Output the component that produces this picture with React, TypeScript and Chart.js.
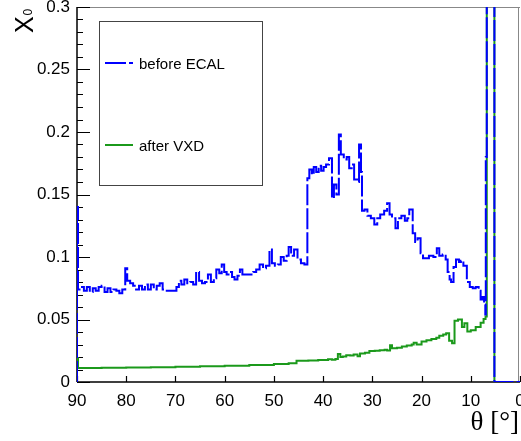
import React, { useEffect, useRef } from 'react';
import { Chart, registerables } from 'chart.js';

Chart.register(...registerables);

// ---- data (theta in degrees, value in X0) ----
const thetaBefore = [
  90, 90, 89.8, 89.2, 88.6, 88.0, 87.4, 86.8, 86.2, 85.6,
  85.0, 84.4, 83.8, 83.2, 82.6, 82.0, 81.4, 80.8, 80.2, 79.8,
  79.2, 78.6, 78.0, 77.4, 76.8, 76.2, 75.6, 75.0, 74.4, 73.8,
  73.2, 72.6, 72.0, 69.8, 69.3, 68.8, 68.2, 67.6, 67.0, 66.4,
  65.8, 65.2, 64.6, 64.0, 63.4, 62.8, 62.2, 61.7, 61.1, 60.6,
  60.1, 59.6, 59.0, 58.5, 58.0, 57.4, 56.9, 56.4, 54.2, 53.6,
  52.9, 52.2, 51.6, 50.9, 50.4, 49.8, 49.2, 48.6, 48.0, 47.4,
  47.0, 46.5, 45.9, 45.2, 44.5, 43.8, 43.2, 42.8, 42.3, 41.9,
  41.4, 40.9, 40.4, 39.9, 39.4, 38.8, 38.2, 37.8, 37.3, 36.8,
  36.4, 35.8, 35.2, 34.7, 34.2, 33.7, 33.1, 32.7, 32.3, 32.1,
  31.6, 31.0, 30.3, 29.6, 29.0, 28.4, 27.6, 27.0, 26.5, 26.0,
  25.3, 24.8, 24.1, 23.4, 22.9, 22.5, 21.8, 21.3, 20.8, 20.2,
  19.7, 19.1, 18.5, 17.6, 16.9, 16.4, 15.7, 15.1, 14.7, 14.3,
  14.0, 13.5, 13.0, 12.4, 12.0, 11.5, 10.8, 10.2, 9.6, 9.0,
  8.4, 8.0, 7.6, 7.3, 7.05, 6.95, 6.75, 5.2, 0,
];
const x0Before = [
  0, 0.14, 0.074, 0.076, 0.073, 0.076, 0.072, 0.075, 0.073, 0.076,
  0.077, 0.072, 0.075, 0.072, 0.074, 0.073, 0.071, 0.074, 0.091, 0.081,
  0.079, 0.077, 0.074, 0.077, 0.074, 0.078, 0.074, 0.078, 0.074, 0.077,
  0.079, 0.074, 0.073, 0.076, 0.081, 0.078, 0.082, 0.079, 0.080, 0.078,
  0.088, 0.081, 0.079, 0.080, 0.086, 0.080, 0.083, 0.090, 0.087, 0.094,
  0.088, 0.086, 0.088, 0.084, 0.082, 0.085, 0.090, 0.086, 0.088, 0.090,
  0.094, 0.091, 0.093, 0.106, 0.095, 0.093, 0.094, 0.100, 0.097, 0.101,
  0.108, 0.101, 0.106, 0.098, 0.095, 0.094, 0.163, 0.170, 0.166, 0.172,
  0.168, 0.173, 0.169, 0.172, 0.174, 0.179, 0.147, 0.158, 0.150, 0.198,
  0.182, 0.178, 0.180, 0.171, 0.174, 0.162, 0.160, 0.190, 0.168, 0.137,
  0.138, 0.133, 0.131, 0.126, 0.131, 0.134, 0.137, 0.143, 0.134, 0.131,
  0.123, 0.131, 0.133, 0.129, 0.131, 0.138, 0.119, 0.112, 0.115, 0.103,
  0.099, 0.099, 0.101, 0.100, 0.107, 0.101, 0.102, 0.098, 0.088, 0.082,
  0.080, 0.092, 0.098, 0.096, 0.097, 0.093, 0.080, 0.076, 0.075, 0.076,
  0.073, 0.066, 0.068, 0.062, 0.054, 0.18, 0.5, 0, 0,
];

const thetaAfter = [
  90, 89.8, 85, 80, 75, 70, 65, 60, 55, 50,
  47, 45.4, 43, 41, 39, 38.2, 37.5, 37.0, 36.5, 36.0,
  35.3, 34.5, 33.8, 33.0, 32.5, 31.5, 30.6, 29.5, 28.5, 27.5,
  27.0, 26.4, 26.0, 25.0, 24.0, 23.0, 22.0, 21.6, 21.0, 20.0,
  19.0, 18.0, 17.0, 16.4, 15.6, 15.0, 14.4, 13.8, 13.3, 12.6,
  11.8, 11.3, 10.7, 10.0, 9.0, 8.0, 7.4, 7.0, 6.75, 5.2,
];
const x0After = [
  0.019, 0.0112, 0.0114, 0.0116, 0.0119, 0.0122, 0.0126, 0.0131, 0.0137, 0.0145,
  0.0150, 0.0170, 0.0173, 0.0177, 0.0182, 0.0178, 0.0185, 0.0225, 0.0200, 0.0205,
  0.0215, 0.0212, 0.0220, 0.0206, 0.0228, 0.0235, 0.0248, 0.0250, 0.0255, 0.0258,
  0.0252, 0.0295, 0.0270, 0.0275, 0.0285, 0.0292, 0.0300, 0.0315, 0.0300, 0.0325,
  0.0335, 0.0345, 0.0355, 0.0370, 0.0380, 0.0390, 0.0330, 0.0310, 0.0490, 0.0500,
  0.0440, 0.0470, 0.0405, 0.0415, 0.0440, 0.0475, 0.0505, 0.0525, 0.5, 0,
];

const seriesLabels = ['before ECAL', 'after VXD'];
const seriesColors = ['#0000ff', '#1b991b'];
const yMajorStep = 0.05;
const yMinorStep = 0.01;
const xMajorStep = 10;
const yAxisTitle = 'X';
const yAxisSub = '0';
const xAxisTitle = 'θ [°]';

const SANS = '"Liberation Sans", Arial, Helvetica, sans-serif';
const SERIF = '"Liberation Serif", "Times New Roman", serif';

const rootPlugin = {
  id: 'rootStyle',
  beforeDatasetsDraw(chart: any) {
    const { ctx, chartArea: a, scales } = chart;
    const xs = scales.x;
    const ys = scales.y;
    ctx.save();
    // frame top & right
    ctx.strokeStyle = '#888';
    ctx.lineWidth = 1;
    ctx.beginPath();
    ctx.moveTo(a.left, a.top + 0.5);
    ctx.lineTo(a.right, a.top + 0.5);
    ctx.moveTo(a.right - 1.5, a.top);
    ctx.lineTo(a.right - 1.5, a.bottom);
    ctx.stroke();
    // axes
    ctx.strokeStyle = '#000';
    ctx.lineWidth = 1.5;
    ctx.beginPath();
    ctx.moveTo(a.left, a.top);
    ctx.lineTo(a.left, a.bottom);
    ctx.moveTo(a.left, a.bottom);
    ctx.lineTo(a.right, a.bottom);
    ctx.stroke();
    // y ticks (inward)
    ctx.lineWidth = 1.2;
    ctx.beginPath();
    const nMinor = Math.round((ys.max - ys.min) / yMinorStep);
    for (let i = 0; i <= nMinor; i++) {
      const v = ys.min + i * yMinorStep;
      const py = Math.round(ys.getPixelForValue(v)) + 0.5;
      const isMajor = Math.abs(v / yMajorStep - Math.round(v / yMajorStep)) < 1e-6;
      ctx.moveTo(a.left, py);
      ctx.lineTo(a.left + (isMajor ? 13 : 6), py);
    }
    // x ticks (inward)
    const nX = Math.round((xs.max - xs.min) / xMajorStep);
    for (let i = 0; i <= nX; i++) {
      const v = xs.min + i * xMajorStep;
      const px = Math.round(xs.getPixelForValue(v)) + 0.5;
      ctx.moveTo(px, a.bottom);
      ctx.lineTo(px, a.bottom - 6);
    }
    ctx.stroke();
    ctx.restore();
  },
  afterDraw(chart: any) {
    const { ctx } = chart;
    ctx.save();
    // legend box
    ctx.fillStyle = '#fff';
    ctx.fillRect(99.5, 21.5, 163, 164);
    ctx.strokeStyle = '#444';
    ctx.lineWidth = 1;
    ctx.strokeRect(99.5, 21.5, 163, 164);
    const rows = [63, 145];
    chart.data.datasets.forEach((ds: any, i: number) => {
      ctx.strokeStyle = ds.borderColor;
      ctx.lineWidth = 2;
      ctx.setLineDash(ds.borderDash || []);
      ctx.beginPath();
      ctx.moveTo(105, rows[i]);
      ctx.lineTo(133, rows[i]);
      ctx.stroke();
      ctx.setLineDash([]);
      ctx.fillStyle = '#000';
      ctx.font = `15px ${SANS}`;
      ctx.textAlign = 'left';
      ctx.textBaseline = 'alphabetic';
      ctx.fillText(ds.label, 139, rows[i] + 6);
    });
    // y axis title X_0 (rotated)
    ctx.save();
    ctx.translate(33, 33);
    ctx.rotate(-Math.PI / 2);
    ctx.fillStyle = '#000';
    ctx.textAlign = 'left';
    ctx.textBaseline = 'alphabetic';
    ctx.font = `25px ${SANS}`;
    ctx.fillText(yAxisTitle, 0, 0);
    ctx.font = `12px ${SANS}`;
    ctx.fillText(yAxisSub, 17.5, -1);
    ctx.restore();
    // x axis title
    ctx.fillStyle = '#000';
    ctx.font = `27px ${SERIF}`;
    ctx.textAlign = 'right';
    ctx.textBaseline = 'alphabetic';
    ctx.fillText(xAxisTitle, 519, 430);
    ctx.restore();
  },
};

export default function App() {
  const canvasRef = useRef<HTMLCanvasElement | null>(null);

  useEffect(() => {
    const canvas = canvasRef.current;
    if (!canvas) return;
    const chart = new Chart(canvas, {
      type: 'line',
      data: {
        datasets: [
          {
            label: seriesLabels[0],
            data: thetaBefore.map((t, i) => ({ x: t, y: x0Before[i] })),
            borderColor: seriesColors[0],
            borderWidth: 2,
            borderDash: [21, 3],
            stepped: true,
            pointRadius: 0,
            fill: false,
            tension: 0,
          },
          {
            label: seriesLabels[1],
            data: thetaAfter.map((t, i) => ({ x: t, y: x0After[i] })),
            borderColor: seriesColors[1],
            borderWidth: 2,
            stepped: true,
            pointRadius: 0,
            fill: false,
            tension: 0,
          },
        ],
      },
      options: {
        animation: false,
        responsive: false,
        devicePixelRatio: 1,
        layout: { padding: { top: 7, right: 1, left: 0, bottom: 0 } },
        plugins: {
          legend: { display: false },
          tooltip: { enabled: false },
          title: { display: false },
        },
        scales: {
          x: {
            type: 'linear',
            reverse: true,
            min: 0,
            max: 90,
            grid: { display: false, drawTicks: false },
            border: { display: false },
            ticks: {
              stepSize: xMajorStep,
              autoSkip: false,
              maxRotation: 0,
              padding: 9,
              color: '#000',
              font: { family: SANS, size: 17 },
            },
            afterFit: (s: any) => {
              s.height = 59;
              s.paddingLeft = 0;
              s.paddingRight = 0;
            },
          },
          y: {
            type: 'linear',
            min: 0,
            max: 0.3,
            grid: { display: false, drawTicks: false },
            border: { display: false },
            ticks: {
              stepSize: yMajorStep,
              padding: 7,
              color: '#000',
              font: { family: SANS, size: 17 },
              callback: (v: any) => String(Number(Number(v).toFixed(3))),
            },
            afterFit: (s: any) => {
              s.width = 77;
              s.paddingTop = 0;
              s.paddingBottom = 0;
            },
          },
        },
      } as any,
      plugins: [rootPlugin],
    });
    return () => chart.destroy();
  }, []);

  return (
    <div style={{ position: 'fixed', left: 0, top: 0, width: 521, height: 441, background: '#fff' }}>
      <canvas ref={canvasRef} width={521} height={441} style={{ display: 'block' }} />
    </div>
  );
}
